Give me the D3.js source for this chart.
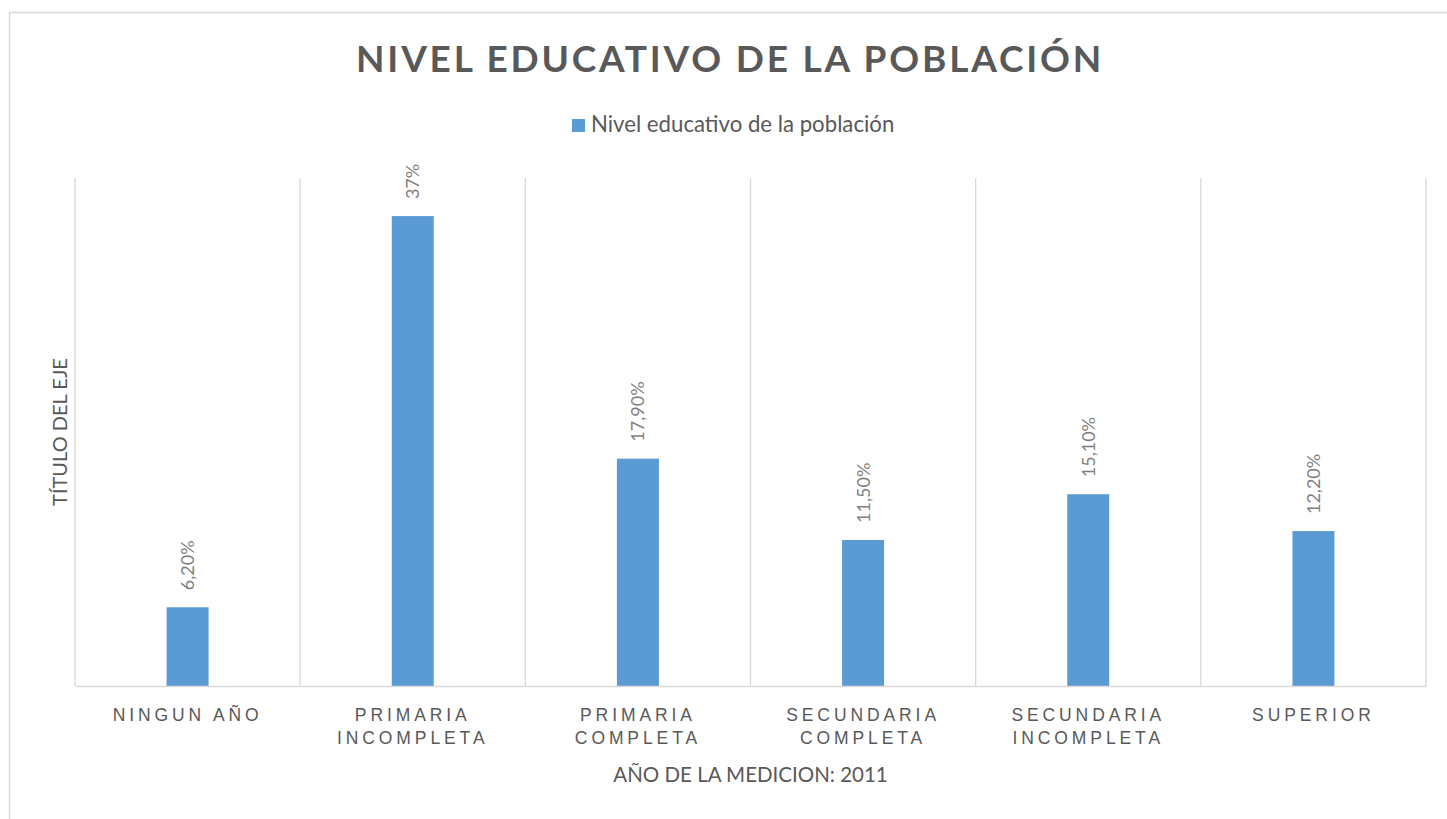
<!DOCTYPE html>
<html>
<head>
<meta charset="utf-8">
<script src="https://cdn.jsdelivr.net/npm/d3@7"></script>
<style>
  body { margin: 0; background: #fff; }
  svg { display: block; font-family: Lato, "Open Sans", sans-serif; }
</style>
</head>
<body>
<svg width="1447" height="819"></svg>
<script>
const categories = ["NINGUN AÑO", "PRIMARIA INCOMPLETA", "PRIMARIA COMPLETA", "SECUNDARIA COMPLETA", "SECUNDARIA INCOMPLETA", "SUPERIOR"]
const tickLines = [["NINGUN AÑO"], ["PRIMARIA", "INCOMPLETA"], ["PRIMARIA", "COMPLETA"], ["SECUNDARIA", "COMPLETA"], ["SECUNDARIA", "INCOMPLETA"], ["SUPERIOR"]]
const values = [6.2, 37, 17.9, 11.5, 15.1, 12.2]
const valueLabels = ["6,20%", "37%", "17,90%", "11,50%", "15,10%", "12,20%"]
const seriesName = "Nivel educativo de la población"
const title = "NIVEL EDUCATIVO DE LA POBLACIÓN"
const xTitle = "AÑO DE LA MEDICION: 2011"
const yTitle = "TÍTULO DEL EJE"

var margin = {top: 178, right: 21, bottom: 133, left: 75}
var width = 1447, height = 819

var svg = d3.select("svg")

// chart frame (runs past the right and bottom edges)
svg.append("rect")
  .attr("x", 9.5).attr("y", 12.5)
  .attr("width", 1460).attr("height", 830)
  .attr("fill", "none").attr("stroke", "#d9d9d9").attr("stroke-width", 1.5)

var x = d3.scaleBand()
  .domain(categories)
  .range([margin.left, width - margin.right])
  .paddingInner(0.8135)
  .paddingOuter(0.8135 / 2)

var xCell = d3.scaleBand()
  .domain(categories)
  .range([margin.left, width - margin.right])
  .padding(0)

var y = d3.scaleLinear()
  .domain([0, 40])
  .range([height - margin.bottom, margin.top])

// vertical gridlines at category boundaries
var edges = categories.map(c => xCell(c)).concat([width - margin.right])
svg.append("g")
  .selectAll("line")
  .data(edges)
  .join("line")
  .attr("x1", d => d).attr("x2", d => d)
  .attr("y1", y(40)).attr("y2", y(0))
  .attr("stroke", "#d9d9d9").attr("stroke-width", 1.3)

// bars
svg.append("g").attr("fill", "#5b9bd5")
  .selectAll("rect")
  .data(values)
  .join("rect")
  .attr("x", (d, i) => x(categories[i]))
  .attr("y", d => y(d))
  .attr("width", x.bandwidth())
  .attr("height", d => y(0) - y(d))

// data labels
svg.append("g")
  .selectAll("text")
  .data(values)
  .join("text")
  .attr("transform", (d, i) => `translate(${x(categories[i]) + x.bandwidth() / 2 + 6.5},${y(d) - 17}) rotate(-90)`)
  .attr("fill", "#7f7f7f")
  .attr("font-size", 18)
  .text((d, i) => valueLabels[i])

// x axis
var xAxis = svg.append("g")
  .attr("transform", `translate(0,${y(0)})`)
  .call(d3.axisBottom(xCell).tickSize(0).tickSizeOuter(0))
xAxis.select(".domain").attr("stroke", "#d9d9d9").attr("stroke-width", 1.5)
xAxis.selectAll(".tick text").remove()
xAxis.selectAll(".tick").each(function(d, i) {
  var t = d3.select(this).append("text")
    .attr("fill", "#595959")
    .attr("font-size", 17.5)
    .attr("letter-spacing", "3.9px")
    .attr("text-anchor", "middle")
  tickLines[i].forEach((line, j) => {
    t.append("tspan").attr("x", 0).attr("y", 34.5 + j * 23.5).text(line)
  })
})

// title
svg.append("text")
  .attr("x", 730).attr("y", 72)
  .attr("text-anchor", "middle")
  .attr("font-size", 37)
  .attr("font-weight", "bold")
  .attr("letter-spacing", "2.8px")
  .attr("fill", "#595959")
  .text(title)

// legend
var legend = svg.append("g").attr("transform", "translate(572,119)")
legend.append("rect").attr("width", 13).attr("height", 13).attr("fill", "#5b9bd5")
legend.append("text")
  .attr("x", 19).attr("y", 13)
  .attr("font-size", 22.2)
  .attr("fill", "#595959")
  .text(seriesName)

// axis titles
svg.append("text")
  .attr("x", (margin.left + width - margin.right) / 2).attr("y", 782)
  .attr("text-anchor", "middle")
  .attr("font-size", 20.5)
  .attr("fill", "#595959")
  .text(xTitle)

svg.append("text")
  .attr("transform", `translate(67,${(y(0) + y(40)) / 2}) rotate(-90)`)
  .attr("text-anchor", "middle")
  .attr("font-size", 20)
  .attr("fill", "#595959")
  .text(yTitle)
</script>
</body>
</html>
